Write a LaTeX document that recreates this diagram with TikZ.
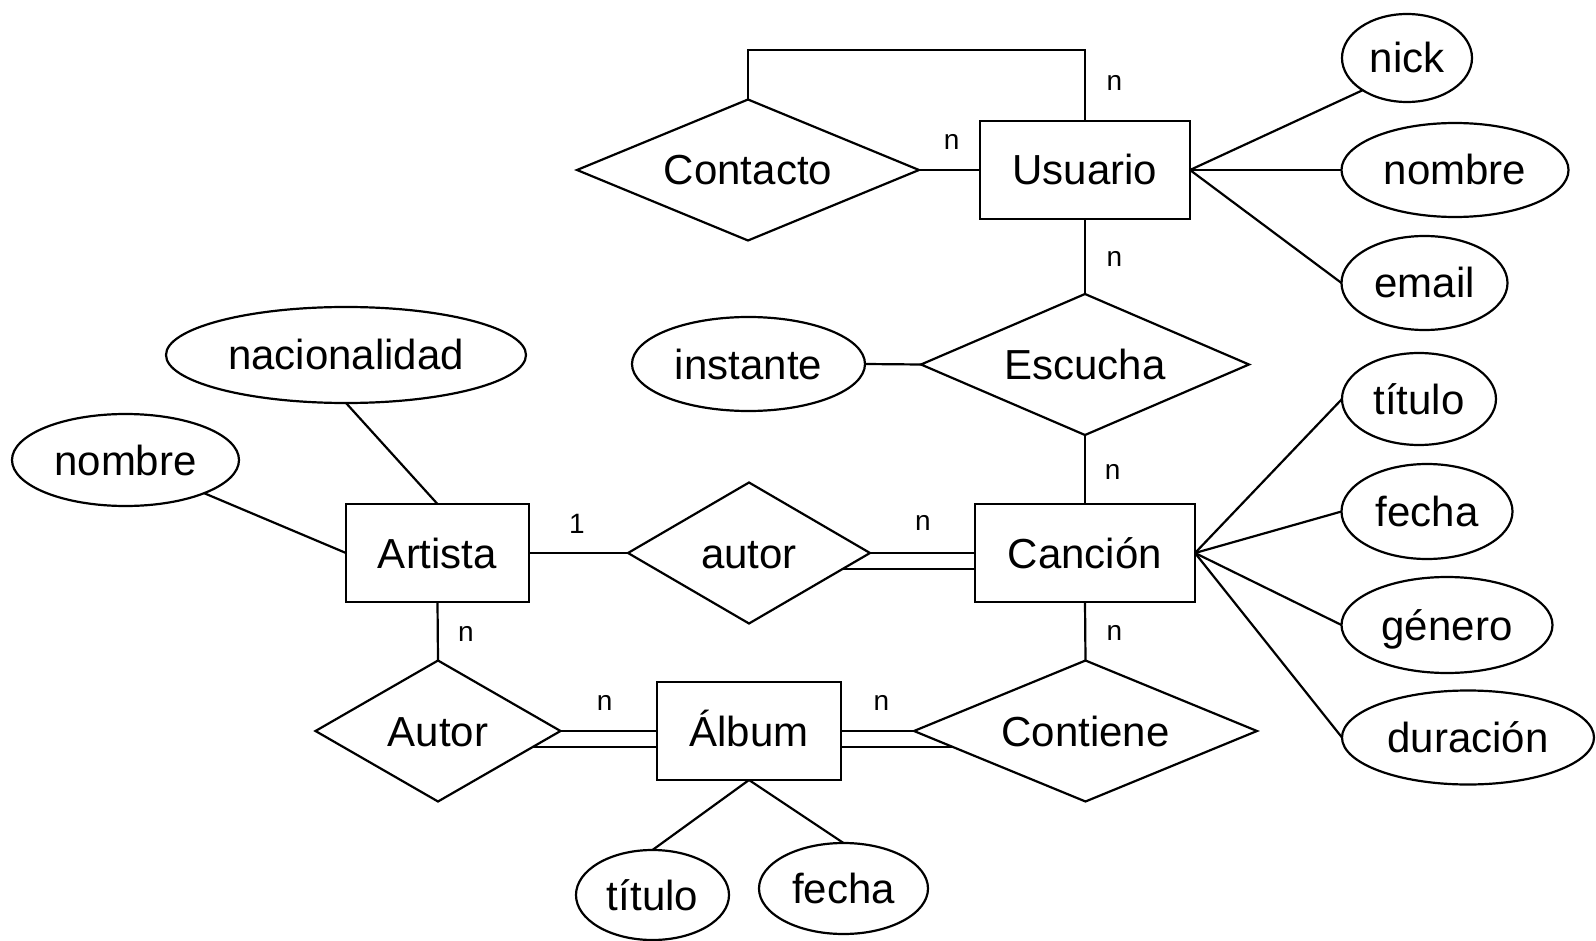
\documentclass[tikz,border=0pt]{standalone}
\usepackage{fontspec}
\setmainfont{Liberation Sans}
\usetikzlibrary{shapes.geometric,calc}
\begin{document}
\begin{tikzpicture}[x=1pt,y=-1pt,
  every node/.style={font=\fontsize{42}{50}\selectfont, text height=30pt, text depth=0pt, inner sep=0pt, outer sep=0pt},
  entity/.style={draw, rectangle, line width=2.2pt},
  rel/.style={draw, diamond, shape aspect=2.4, line width=2.2pt},
  attr/.style={draw, ellipse, line width=2.2pt},
  card/.style={font=\fontsize{28}{32}\selectfont, text height=14.5pt, text depth=0pt},
  conn/.style={line width=2.2pt},
]
\useasboundingbox[fill=white] (0,0) rectangle (1596,941);

% entities
\node[entity, minimum width=210pt, minimum height=98pt] (usuario) at (1085,170) {Usuario};
\node[entity, minimum width=183pt, minimum height=98pt] (artista) at (437.5,553) {Artista};
\node[entity, minimum width=220pt, minimum height=98pt] (cancion) at (1085,553) {Canción};
\node[entity, minimum width=184pt, minimum height=98pt] (album) at (749,731) {Álbum};

% relationships
\node[rel, minimum width=342pt, minimum height=141pt] (contacto) at (748,170) {Contacto};
\node[rel, minimum width=328pt, minimum height=141pt] (escucha) at (1085,364.5) {Escucha};
\node[rel, minimum width=242pt, minimum height=141pt] (autor) at (749,553) {autor};
\node[rel, minimum width=245pt, minimum height=141pt] (autorA) at (438,731) {Autor};
\node[rel, minimum width=343pt, minimum height=141pt] (contiene) at (1085.5,731) {Contiene};

% attributes
\node[attr, minimum width=130pt, minimum height=88pt] (nick) at (1407,58) {nick};
\node[attr, minimum width=227pt, minimum height=94pt] (nombreU) at (1455,170) {nombre};
\node[attr, minimum width=166pt, minimum height=94pt] (email) at (1424.5,283) {email};
\node[attr, minimum width=233pt, minimum height=94pt] (instante) at (748.5,364) {instante};
\node[attr, minimum width=360pt, minimum height=96pt] (nacionalidad) at (346,355) {nacionalidad};
\node[attr, minimum width=227pt, minimum height=92pt] (nombreA) at (125.5,460) {nombre};
\node[attr, minimum width=154pt, minimum height=92pt] (tituloC) at (1419,399) {título};
\node[attr, minimum width=171pt, minimum height=95pt] (fechaC) at (1427,511.5) {fecha};
\node[attr, minimum width=211pt, minimum height=96pt] (genero) at (1447,625) {género};
\node[attr, minimum width=252pt, minimum height=94pt] (duracion) at (1468,737.5) {duración};
\node[attr, minimum width=153pt, minimum height=90pt] (tituloA) at (652.5,895) {título};
\node[attr, minimum width=169pt, minimum height=91pt] (fechaA) at (843.5,888.5) {fecha};

% cardinalities
\node[card] (c1) at (1114.5,83.5) {n};
\node[card] (c2) at (951.7,142.5) {n};
\node[card] (c3) at (1114.5,259.6) {n};
\node[card] (c4) at (1112.6,472.3) {n};
\node[card, text height=20pt] (c5) at (577,523) {1};
\node[card] (c6) at (923,523) {n};
\node[card] (c7) at (466,634) {n};
\node[card] (c8) at (1114.5,633) {n};
\node[card] (c9) at (604.6,703) {n};
\node[card] (c10) at (881.5,703) {n};

% connectors
\coordinate (looptop) at (748,50);
\draw[conn] (contacto.north) -- (looptop) -| (usuario.north);
\draw[conn] (contacto.east) -- (usuario.west);
\draw[conn] (usuario.south) -- (escucha.north);
\draw[conn] (escucha.south) -- (cancion.north);
\draw[conn] (instante.east) -- (escucha.west);

\draw[conn] (usuario.east) -- (nick.216);
\draw[conn] (usuario.east) -- (nombreU.west);
\draw[conn] (usuario.east) -- (email.west);

\draw[conn] (cancion.east) -- (tituloC.west);
\draw[conn] (cancion.east) -- (fechaC.west);
\draw[conn] (cancion.east) -- (genero.west);
\draw[conn] (cancion.east) -- (duracion.west);

\draw[conn] (nacionalidad.south) -- (artista.north);
\draw[conn] (nombreA) -- (artista.west);

\draw[conn] (artista.east) -- (autor.west);
\draw[conn] (autor.east) -- (autor.east -| cancion.west);
\coordinate (autorlow) at ($(autor.east)+(-27.5,16)$);
\draw[conn] (autorlow) -- (autorlow -| cancion.west);

\draw[conn] (artista.south) -- (autorA.north);
\draw[conn] (autorA.east) -- (autorA.east -| album.west);
\coordinate (autorAlow) at ($(autorA.east)+(-27.8,16)$);
\draw[conn] (autorAlow) -- (autorAlow -| album.west);

\draw[conn] (album.east |- contiene.west) -- (contiene.west);
\coordinate (contlow) at ($(contiene.west)+(39.2,16)$);
\draw[conn] (contlow -| album.east) -- (contlow);

\draw[conn] (cancion.south) -- (contiene.north);

\draw[conn] (album.south) -- (tituloA.north);
\draw[conn] (album.south) -- (fechaA.north);
\end{tikzpicture}
\end{document}
